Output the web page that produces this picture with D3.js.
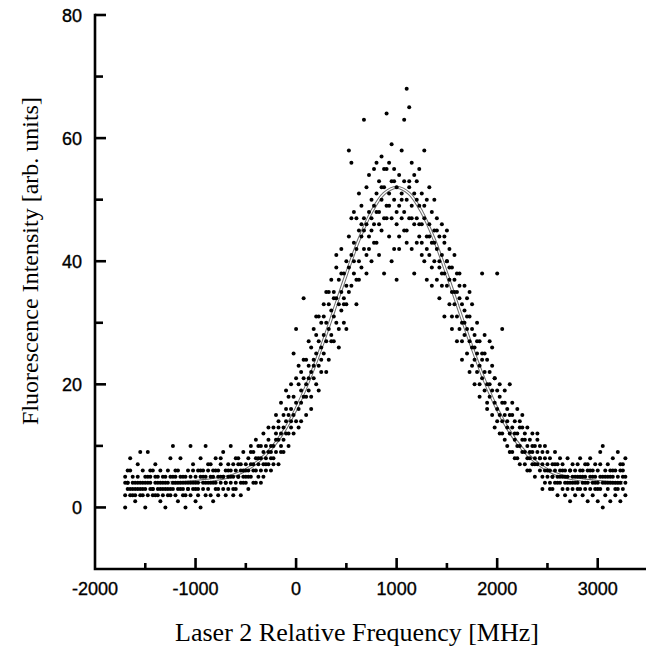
<!DOCTYPE html>
<html>
<head>
<meta charset="utf-8">
<script src="https://cdn.jsdelivr.net/npm/d3@7"></script>
<style>
  html, body { margin: 0; padding: 0; background: #fff; }
  svg { display: block; }
  .tick-label { font-family: "Liberation Sans", Arial, sans-serif; font-size: 18px; fill: #000; stroke: #000; stroke-width: 0.35; }
  .axis-title { font-family: "Liberation Serif", "Times New Roman", serif; fill: #000; }
</style>
</head>
<body>
<div id="chart"></div>
<script>
// measured points: [frequency MHz, intensity readings...]
const scan = [
  [-1700, 4, 2, 0, 5], [-1675, 3, 6, 4, 4], [-1650, 3, 8, 2, 6], [-1625, 4, 5, 3, 2], [-1600, 4, 2, 1, 3],
  [-1575, 3, 5, 7, 4], [-1550, 2, 4, 9, 3], [-1525, 4, 3, 6, 2], [-1500, 3, 0, 5, 4], [-1475, 4, 2, 9, 5],
  [-1450, 3, 5, 4, 6], [-1425, 3, 6, 2, 3], [-1400, 4, 2, 7, 5], [-1375, 4, 3, 5, 2], [-1350, 1, 4, 6, 3],
  [-1325, 2, 4, 3, 5], [-1300, 5, 0, 3, 4], [-1275, 4, 2, 6, 3], [-1250, 3, 5, 8, 2], [-1225, 4, 3, 10, 5],
  [-1200, 4, 2, 5, 6], [-1175, 1, 4, 6, 3], [-1150, 3, 5, 8, 4], [-1125, 4, 2, 3, 5], [-1100, 5, 0, 4, 2],
  [-1075, 4, 3, 6, 3], [-1050, 2, 5, 10, 4], [-1025, 4, 3, 7, 6], [-1000, 5, 1, 4, 3],
  [-975, 4, 2, 6, 3], [-950, 5, 0, 8, 6], [-925, 4, 3, 6, 5], [-900, 5, 2, 10, 4], [-875, 6, 4, 3, 7],
  [-850, 4, 5, 7, 2], [-825, 5, 1, 6, 4], [-800, 4, 3, 8, 6], [-775, 6, 2, 5, 3], [-750, 4, 5, 7, 8],
  [-725, 5, 3, 9, 5], [-700, 4, 6, 2, 4], [-675, 5, 3, 7, 6], [-650, 6, 4, 10, 5], [-625, 5, 2, 7, 3],
  [-600, 6, 4, 3, 8], [-575, 5, 7, 8, 5], [-550, 4, 6, 2, 7], [-525, 6, 5, 9, 4], [-500, 5, 7, 4, 6],
  [-475, 6, 8, 3, 5], [-450, 5, 7, 10, 9], [-425, 7, 4, 9, 6], [-400, 6, 8, 11, 4], [-375, 7, 5, 10, 8],
  [-350, 8, 6, 4, 10], [-325, 7, 9, 12, 5], [-300, 8, 6, 10, 7], [-275, 9, 7, 13, 11], [-250, 8, 10, 6, 9],
  [-225, 10, 8, 13, 7], [-200, 9, 12, 15, 11], [-175, 11, 7, 14, 13], [-150, 12, 10, 17, 9], [-125, 13, 9, 11, 15],
  [-100, 14, 12, 19, 16], [-75, 12, 15, 10, 18], [-50, 16, 13, 20, 14], [-25, 15, 18, 25, 12], [0, 17, 14, 29, 21],
  [25, 16, 20, 13, 23], [50, 19, 22, 17, 14], [75, 21, 18, 34, 24], [100, 20, 24, 15, 18], [125, 23, 19, 27, 21],
  [150, 22, 26, 18, 16], [175, 24, 21, 29, 23], [200, 25, 28, 20, 31], [225, 27, 23, 31, 19], [250, 26, 30, 22, 24],
  [275, 28, 25, 33, 31], [300, 30, 27, 35, 22], [325, 29, 33, 24, 35], [350, 32, 28, 37, 27], [375, 31, 35, 27, 34],
  [400, 34, 30, 39, 41], [425, 33, 37, 29, 26], [450, 35, 32, 42, 38], [475, 38, 34, 30, 33], [500, 36, 40, 33, 29],
  [525, 39, 44, 58, 35], [550, 41, 36, 56, 47], [575, 43, 38, 48, 40], [600, 42, 47, 37, 33], [625, 45, 40, 51, 37],
  [650, 44, 49, 39, 46], [675, 47, 42, 63, 45], [700, 46, 52, 41, 38], [725, 48, 44, 54, 42], [750, 50, 45, 40, 47],
  [775, 49, 46, 55, 43], [800, 51, 43, 56, 48], [825, 48, 53, 41, 46], [850, 50, 45, 57, 52], [875, 52, 47, 38, 55],
  [900, 49, 55, 64, 47], [925, 51, 44, 56, 49], [950, 53, 47, 59, 40], [975, 50, 42, 55, 53], [1000, 52, 46, 37, 48],
  [1025, 49, 54, 44, 42], [1050, 51, 47, 58, 50], [1075, 48, 53, 63, 45], [1100, 50, 45, 68, 43], [1125, 52, 47, 65, 53],
  [1150, 49, 56, 42, 47], [1175, 51, 46, 38, 54], [1200, 47, 53, 43, 50], [1225, 49, 44, 55, 46], [1250, 46, 51, 41, 43],
  [1275, 47, 40, 58, 49], [1300, 44, 50, 37, 42], [1325, 46, 41, 52, 44], [1350, 43, 48, 36, 39], [1375, 40, 45, 50, 43],
  [1400, 42, 37, 47, 45], [1425, 39, 44, 34, 40], [1450, 41, 36, 46, 38], [1475, 38, 43, 31, 44], [1500, 36, 40, 45, 40],
  [1525, 37, 33, 42, 39], [1550, 35, 39, 29, 31], [1575, 33, 37, 41, 35], [1600, 31, 35, 27, 38], [1625, 34, 29, 38, 36],
  [1650, 30, 33, 24, 27], [1675, 28, 32, 36, 30], [1700, 29, 25, 34, 31], [1725, 27, 31, 22, 35], [1750, 26, 29, 33, 23],
  [1775, 24, 28, 20, 26], [1800, 25, 22, 30, 27], [1825, 23, 27, 18, 20], [1850, 21, 25, 38, 24], [1875, 22, 19, 28, 25],
  [1900, 20, 24, 16, 17], [1925, 18, 22, 27, 20], [1950, 19, 15, 23, 26], [1975, 17, 21, 13, 21], [2000, 16, 19, 38, 14],
  [2025, 15, 18, 12, 20], [2050, 14, 17, 29, 12], [2075, 15, 11, 19, 17], [2100, 13, 16, 10, 14], [2125, 12, 15, 20, 9],
  [2150, 13, 9, 17, 15], [2175, 11, 14, 8, 12], [2200, 12, 10, 16, 8], [2225, 10, 13, 7, 14], [2250, 11, 9, 15, 13],
  [2275, 9, 12, 7, 11], [2300, 10, 8, 13, 6], [2325, 8, 11, 6, 9], [2350, 9, 7, 12, 10], [2375, 8, 10, 5, 7],
  [2400, 7, 9, 11, 12], [2425, 8, 6, 10, 8], [2450, 7, 9, 3, 5], [2475, 6, 8, 10, 4], [2500, 7, 5, 9, 6],
  [2525, 6, 4, 8, 3], [2550, 5, 7, 3, 5], [2575, 6, 4, 9, 7], [2600, 5, 7, 2, 4], [2625, 4, 6, 8, 5],
  [2650, 5, 3, 7, 6], [2675, 6, 4, 2, 5], [2700, 5, 8, 3, 4], [2725, 4, 6, 1, 6], [2750, 5, 3, 7, 4],
  [2775, 6, 4, 2, 5], [2800, 4, 7, 5, 3], [2825, 5, 3, 8, 6], [2850, 6, 4, 2, 5], [2875, 5, 7, 3, 4],
  [2900, 4, 6, 1, 7], [2925, 5, 3, 8, 6], [2950, 4, 6, 2, 5], [2975, 5, 7, 3, 4], [3000, 6, 4, 1, 3],
  [3025, 5, 3, 9, 7], [3050, 4, 10, 0, 5], [3075, 5, 6, 2, 4], [3100, 4, 7, 3, 5], [3125, 6, 5, 1, 4],
  [3150, 5, 4, 8, 6], [3175, 4, 6, 2, 3], [3200, 5, 3, 9, 4], [3225, 6, 4, 1, 7], [3250, 5, 7, 3, 6],
  [3275, 4, 2, 8, 5]
];

// fitted profile
const fitFreq = [-1250, -1000, -750, -625, -500, -375, -250, -125, 0, 125, 250, 375, 500, 625, 750, 875,
  1000, 1125, 1250, 1375, 1500, 1625, 1750, 1875, 2000, 2125, 2250, 2375, 2500, 2625, 2750, 3000, 3250];
const fitValue = [4.0, 4.2, 4.7, 5.2, 6.1, 7.5, 9.5, 12.3, 16.0, 20.6, 26.0, 31.9, 37.9, 43.5, 48.0, 51.0,
  52.0, 51.0, 48.0, 43.5, 37.9, 31.9, 26.0, 20.6, 16.0, 12.3, 9.5, 7.5, 6.1, 5.2, 4.7, 4.2, 4.0];

const xMajor = [-2000, -1000, 0, 1000, 2000, 3000];
const xMinor = [-1500, -500, 500, 1500, 2500];
const yMajor = [0, 20, 40, 60, 80];
const yMinor = [10, 30, 50, 70];

const W = 646, H = 651;
const x = d3.scaleLinear().domain([-2000, 3500]).range([95, 648]);
const y = d3.scaleLinear().domain([-10, 80]).range([569, 15]);

const svg = d3.select('#chart').append('svg')
  .attr('width', W).attr('height', H)
  .attr('viewBox', `0 0 ${W} ${H}`);

const points = scan.flatMap(r => r.slice(1).map(v => ({ f: r[0], v })));
const fit = fitFreq.map((f, i) => ({ f, v: fitValue[i] }));

// fit line: grey outline with white core (double line look)
const line = d3.line().x(d => x(d.f)).y(d => y(d.v)).curve(d3.curveCatmullRom);
svg.append('path').datum(fit)
  .attr('d', line).attr('fill', 'none')
  .attr('stroke', '#6e6e6e').attr('stroke-width', 3.4);
svg.append('path').datum(fit)
  .attr('d', line).attr('fill', 'none')
  .attr('stroke', '#fff').attr('stroke-width', 1.4);

svg.append('g').selectAll('circle').data(points).join('circle')
  .attr('cx', d => x(d.f))
  .attr('cy', d => y(d.v))
  .attr('r', 2)
  .attr('fill', '#000');

// axes: inward ticks
const ax = svg.append('g').attr('stroke', '#000').attr('stroke-width', 2.6).attr('fill', 'none');
ax.append('path').attr('d', `M${x(-2000)},${y(80)}V${y(-10)}H${x(3500)}`)
  .attr('stroke-linecap', 'square');

ax.selectAll('line.ym').data(yMajor).join('line')
  .attr('x1', x(-2000)).attr('x2', x(-2000) + 11)
  .attr('y1', d => y(d)).attr('y2', d => y(d));
ax.selectAll('line.yn').data(yMinor).join('line')
  .attr('x1', x(-2000)).attr('x2', x(-2000) + 8)
  .attr('y1', d => y(d)).attr('y2', d => y(d));
ax.selectAll('line.xm').data(xMajor.slice(1)).join('line')
  .attr('x1', d => x(d)).attr('x2', d => x(d))
  .attr('y1', y(-10)).attr('y2', y(-10) - 11);
ax.selectAll('line.xn').data(xMinor).join('line')
  .attr('x1', d => x(d)).attr('x2', d => x(d))
  .attr('y1', y(-10)).attr('y2', y(-10) - 6);

svg.append('g').selectAll('text').data(yMajor).join('text')
  .attr('class', 'tick-label')
  .attr('x', 82).attr('y', d => y(d) + 6.5)
  .attr('text-anchor', 'end')
  .text(d => d);

svg.append('g').selectAll('text').data(xMajor).join('text')
  .attr('class', 'tick-label')
  .attr('x', d => x(d)).attr('y', 595)
  .attr('text-anchor', 'middle')
  .text(d => d);

svg.append('text').attr('class', 'axis-title')
  .attr('font-size', 24)
  .attr('transform', `translate(38,261) rotate(-90)`)
  .attr('text-anchor', 'middle')
  .text('Fluorescence Intensity [arb. units]');

svg.append('text').attr('class', 'axis-title')
  .attr('font-size', 26)
  .attr('x', 357).attr('y', 641)
  .attr('text-anchor', 'middle')
  .text('Laser 2 Relative Frequency [MHz]');
</script>
</body>
</html>
